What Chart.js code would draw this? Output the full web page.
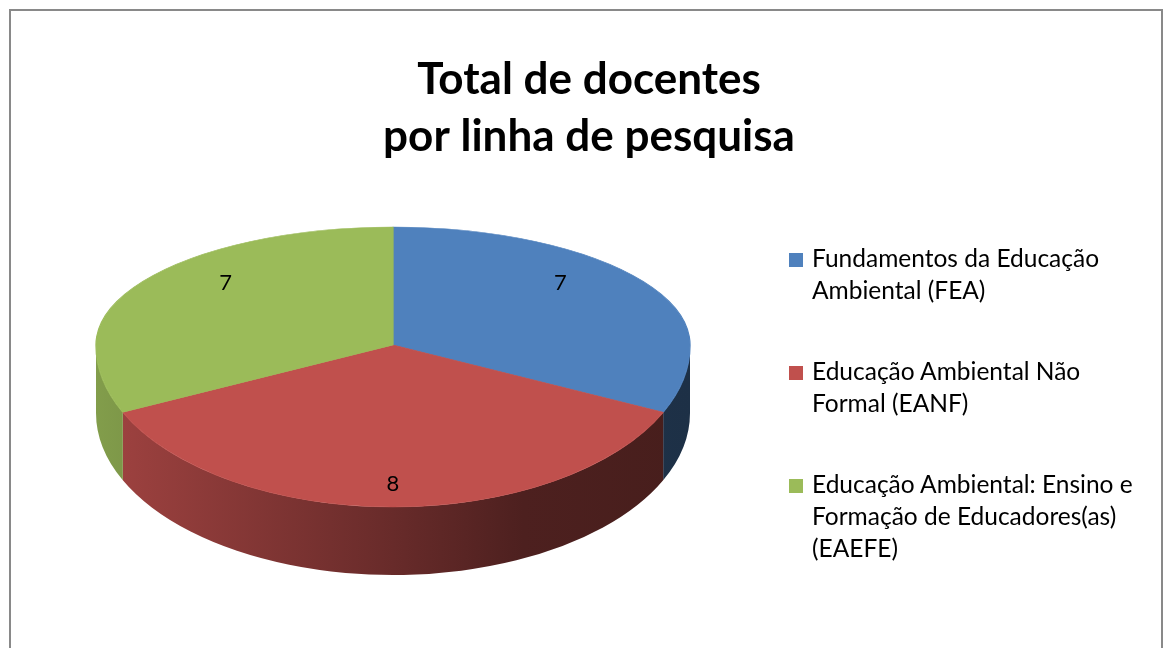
<!DOCTYPE html>
<html>
<head>
<meta charset="utf-8">
<script src="https://cdn.jsdelivr.net/npm/chart.js@4.4.1/dist/chart.umd.min.js"></script>
<style>
  html, body { margin: 0; padding: 0; background: #fff; overflow: hidden; }
  body { width: 1166px; height: 648px; position: relative; }
  #moldura {
    position: absolute; left: 9px; top: 9px; width: 1150px; height: 700px;
    border: 2px solid #898989;
  }
  #grafico { position: absolute; left: 0; top: 0; }
  #legenda {
    position: absolute; left: 789px; top: 242px;
    font-family: Lato, "Open Sans", sans-serif; font-size: 24.5px; line-height: 32px; color: #000;
  }
  #legenda .item { display: flex; align-items: flex-start; margin-bottom: 49px; }
  #legenda .cor { width: 14px; height: 14px; margin-top: 11px; margin-right: 9px; flex: none; }
</style>
</head>
<body>
<div id="moldura"></div>
<canvas id="grafico" width="1166" height="648"></canvas>
<div id="legenda"></div>
<script>
const titulo = ["Total de docentes", "por linha de pesquisa"];
const categorias = [
  ["Fundamentos da Educação", "Ambiental (FEA)"],
  ["Educação Ambiental Não", "Formal (EANF)"],
  ["Educação Ambiental: Ensino e", "Formação de Educadores(as)", "(EAEFE)"]
];
const docentes = [7, 8, 7];
const cores = ["#4f81bd", "#c0504d", "#9bbb59"];

// where the tilted pie sits on the page
const CX = 393, CY = 345;
const RX = 297, RY_TOP = 118, RY_BOTTOM = 162;
const DEPTH = 68;
// darkening of the side wall from left to right
const SHADE = [[0, 0.84], [0.5, 0.54], [0.72, 0.40], [1, 0.37]];

function shade(hex, k) {
  const n = parseInt(hex.slice(1), 16);
  const r = Math.round(((n >> 16) & 255) * k);
  const g = Math.round(((n >> 8) & 255) * k);
  const b = Math.round((n & 255) * k);
  return `rgb(${r},${g},${b})`;
}

const pie3d = {
  id: "pie3d",
  beforeDatasetsDraw(chart) {
    const ctx = chart.ctx;
    const arcs = chart.getDatasetMeta(0).data;
    const r = arcs[0].outerRadius;
    const ax = arcs[0].x, ay = arcs[0].y;
    const rx = r * (RX / r);

    // side wall (only the front half is visible)
    arcs.forEach((a, i) => {
      const lo = Math.max(a.startAngle, 0);
      const hi = Math.min(a.endAngle, Math.PI);
      if (hi <= lo) return;
      const g = ctx.createLinearGradient(CX - rx, 0, CX + rx, 0);
      SHADE.forEach(([p, k]) => g.addColorStop(p, shade(cores[i], k)));
      ctx.save();
      ctx.beginPath();
      ctx.ellipse(CX, CY, rx, RY_BOTTOM, 0, lo, hi);
      ctx.ellipse(CX, CY + DEPTH, rx, RY_BOTTOM, 0, hi, lo, true);
      ctx.closePath();
      ctx.fillStyle = g;
      ctx.fill();
      ctx.restore();
    });

    // top face: back half flatter than front half (fake perspective)
    [[0, CY, RY_TOP], [CY, chart.height - CY, RY_BOTTOM]].forEach(([y0, h, ry]) => {
      ctx.save();
      ctx.beginPath();
      ctx.rect(0, y0, chart.width, h);
      ctx.clip();
      ctx.translate(CX, CY);
      ctx.scale(RX / r, ry / r);
      ctx.translate(-ax, -ay);
      arcs.forEach(a => a.draw(ctx));
      ctx.restore();
    });
    return false;
  },
  afterDraw(chart) {
    const ctx = chart.ctx;
    const arcs = chart.getDatasetMeta(0).data;
    const vals = chart.data.datasets[0].data;
    ctx.save();
    ctx.font = "22px Lato";
    ctx.fillStyle = "#000";
    ctx.textAlign = "center";
    ctx.textBaseline = "middle";
    arcs.forEach((a, i) => {
      const m = (a.startAngle + a.endAngle) / 2;
      const s = Math.sin(m);
      const x = CX + RX * 0.67 * Math.cos(m);
      const y = CY + (s < 0 ? RY_TOP * 0.98 : RY_BOTTOM * 0.86) * s;
      ctx.fillText(String(vals[i]), x, y);
    });
    ctx.restore();
  }
};

function montarLegenda(chart) {
  const box = document.getElementById("legenda");
  chart.data.labels.forEach((lab, i) => {
    const item = document.createElement("div");
    item.className = "item";
    const sq = document.createElement("span");
    sq.className = "cor";
    sq.style.background = chart.data.datasets[0].backgroundColor[i];
    const txt = document.createElement("span");
    (Array.isArray(lab) ? lab : [lab]).forEach((ln, j) => {
      if (j) txt.appendChild(document.createElement("br"));
      txt.appendChild(document.createTextNode(ln));
    });
    item.appendChild(sq);
    item.appendChild(txt);
    box.appendChild(item);
  });
}

const ctx = document.getElementById("grafico").getContext("2d");
const chart = new Chart(ctx, {
  type: "pie",
  data: {
    labels: categorias,
    datasets: [{
      data: docentes,
      backgroundColor: cores,
      borderColor: cores,
      borderWidth: 1
    }]
  },
  plugins: [pie3d],
  options: {
    responsive: false,
    animation: false,
    layout: { padding: { left: 12 } },
    plugins: {
      legend: { display: false },
      tooltip: { enabled: false },
      title: {
        display: true,
        text: titulo,
        color: "#000",
        font: { family: "Lato", size: 44, weight: "bold", lineHeight: 1.3 },
        padding: { top: 51, bottom: 10 }
      }
    }
  }
});
montarLegenda(chart);
</script>
</body>
</html>
